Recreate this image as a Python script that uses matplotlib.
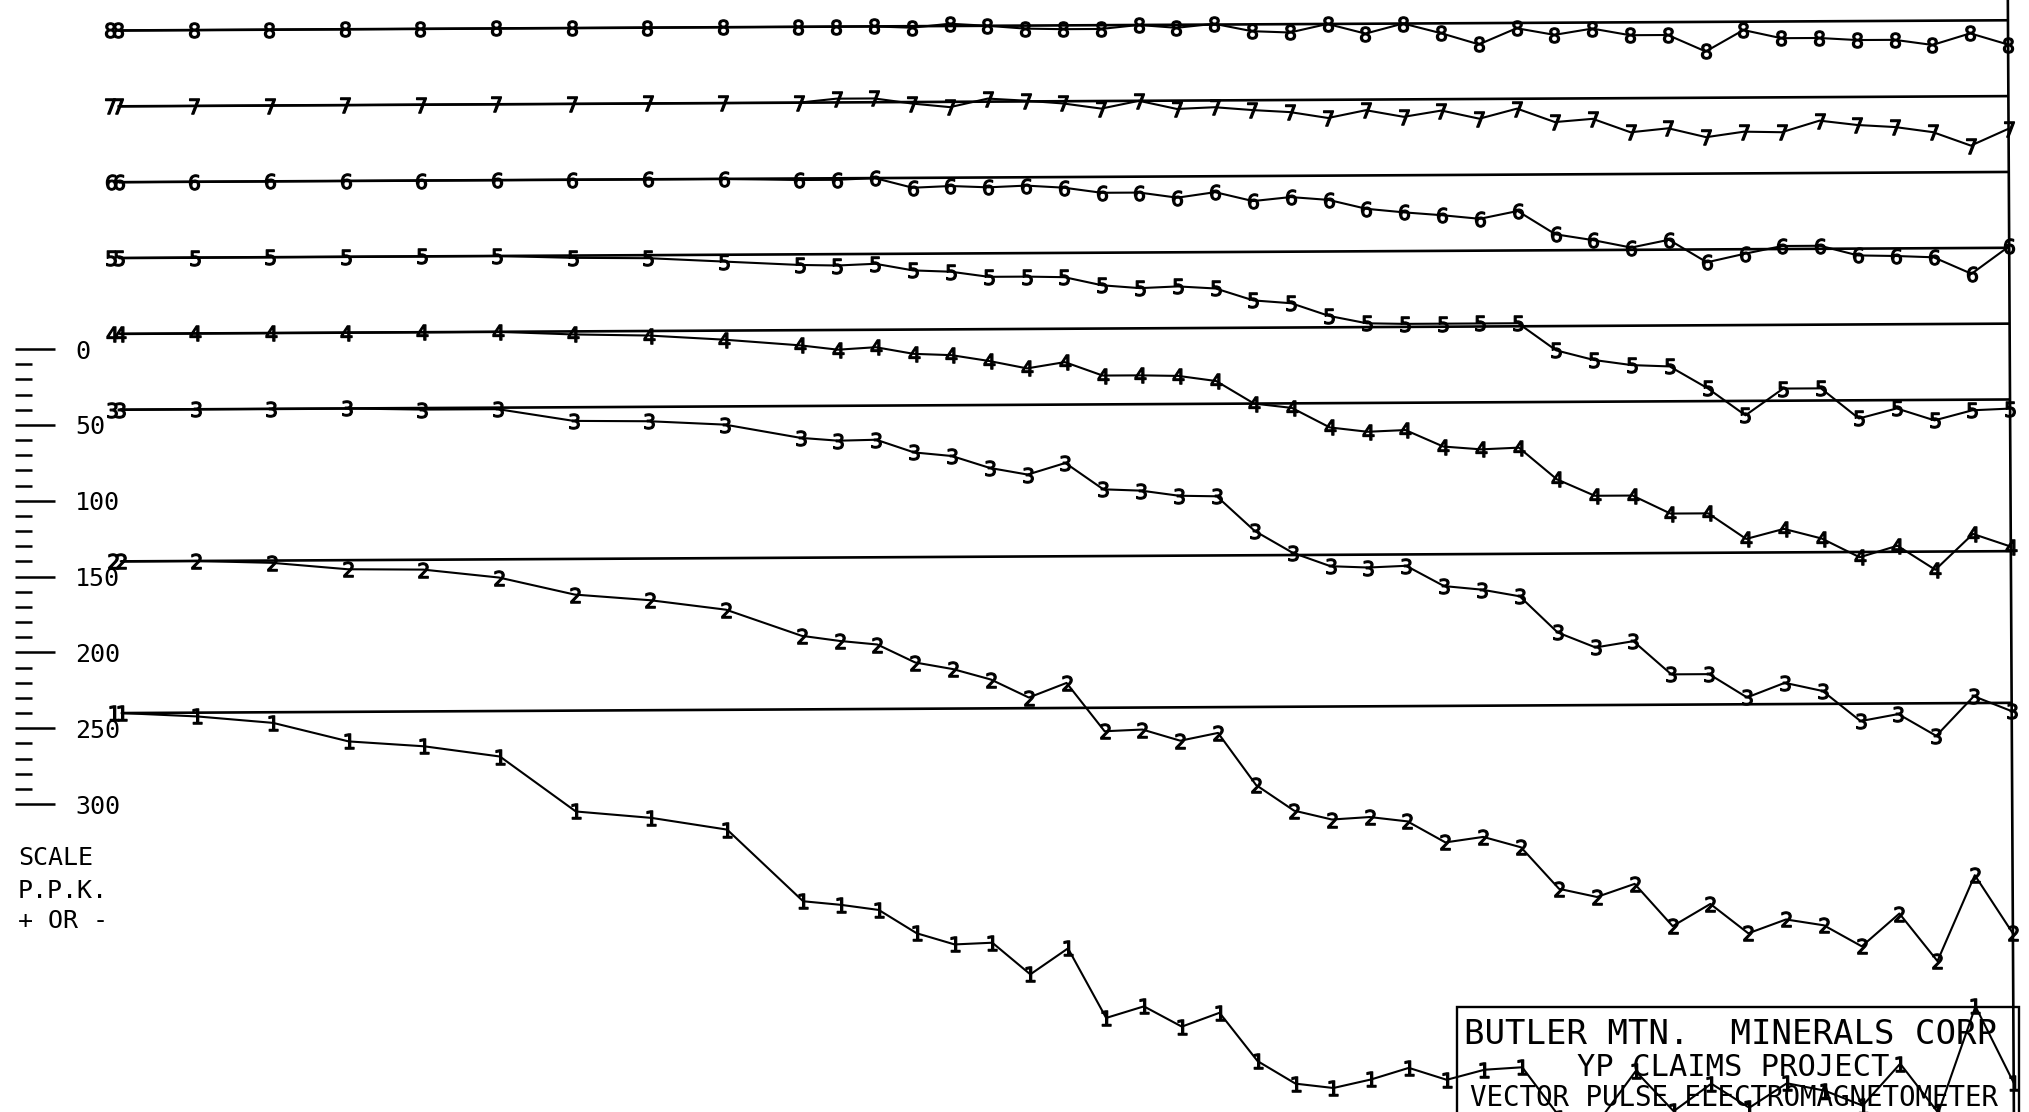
import matplotlib
matplotlib.use("Agg")
import matplotlib.pyplot as plt
from matplotlib.transforms import Affine2D, IdentityTransform, offset_copy
from matplotlib.patches import Rectangle
from matplotlib.ticker import FixedLocator, FuncFormatter

W, H, DPI = 2029, 1112, 100

# survey stations along the profile (wide spacing first, then every station)
stations = [0, 2, 4, 6, 8, 10, 12, 14, 16, 18,
            19, 20, 21, 22, 23, 24, 25, 26, 27, 28, 29, 30, 31, 32, 33, 34,
            35, 36, 37, 38, 39, 40, 41, 42, 43, 44, 45, 46, 47, 48, 49, 50]

# P.P.K. readings per channel
ch8 = [0, 0, 0, 0, 0, 0, 0, 0, 0, 0,
       0, 0, -1, 1.5, 0, -2, -2.5, -2.5, 0, -2, 0.5, -4.5, -5.5, 0, -6.5, 0,
       -6.5, -14, -3.5, -8, -4, -8.5, -8.5, -19.5, -5.5, -11, -11, -12.5, -12.5, -16, -8.5, -16]
ch7 = [0, 0, 0, 0, 0, 0, 0, 0, 0, 0,
       2.5, 2.5, -1, -3.5, 2, 0.5, -1.5, -5, 0, -5.5, -4.5, -6.5, -8, -12, -7, -11.5,
       -7.5, -13, -6.5, -15.5, -13.5, -22.5, -20, -26, -22.5, -23, -15.5, -18.5, -20, -23.5, -32.5, -21.5]
ch6 = [0, 0, 0, 0, 0, 0, 0, 0, 0, -1,
       -1, 0, -6.5, -5.5, -6.5, -5.5, -7, -10.5, -10.5, -14, -10.5, -16.5, -14, -16, -22, -24.5,
       -26.5, -29, -24, -39.5, -43.5, -48.5, -43.5, -58.5, -53, -48, -48, -54.5, -55, -56, -67, -49]
ch5 = [0, 0, 0, 0, 0, 0, -1.5, -2, -4.5, -7,
       -7.5, -6.5, -11, -12, -15.5, -15.5, -16, -21.5, -23.5, -22.5, -24, -32, -34, -42.5, -47.5, -48,
       -48, -48, -48, -66, -72.5, -76, -77, -91.5, -109.5, -92, -92, -112, -105.5, -113.5, -107, -106]
ch4 = [0, 0, 0, 0, 0, 0, -2, -3, -6, -10,
       -13, -11.5, -16, -17, -21, -26, -22, -31, -31, -31.5, -35, -50, -53, -66, -69, -68,
       -79, -81, -80, -101, -112, -112, -124, -124, -141, -134.5, -141, -153.5, -146, -162, -138.5, -147]
ch3 = [0, 0, 0, 0, -1, -1, -9, -9.5, -12, -21,
       -23, -22.5, -31, -33.5, -41.5, -46, -38.5, -56, -57, -60.5, -61, -84, -98.5, -107.5, -108.5, -107.5,
       -121, -123.5, -128, -152, -162, -158, -180, -180, -195.5, -186, -191.5, -211.5, -207, -221.5, -195.5, -205.5]
ch2 = [0, 0, -1.5, -6, -6.5, -12, -23.5, -27.5, -34, -51.5,
       -55, -57.5, -69.5, -74, -81, -93, -83.5, -115.5, -114.5, -122, -117, -151.5, -168.5, -174.5, -173, -176,
       -190, -186.5, -193.5, -221, -226.5, -218, -246, -231.5, -251, -242, -246, -260, -238.5, -270, -213.5, -252]
ch1 = [0, -2.5, -7, -19.5, -23, -30, -66.5, -71, -79, -126.5,
       -129, -132.5, -148, -155.5, -154.5, -175.5, -158.5, -204.5, -197, -210.5, -201.5, -233.5, -248.5, -251.5, -246, -238.5,
       -246.5, -240, -238.5, -272, -275, -241.5, -268, -250, -266, -250, -255, -265, -237.5, -270, -200, -250.5]

channels = [8, 7, 6, 5, 4, 3, 2, 1]
profiles = [ch8, ch7, ch6, ch5, ch4, ch3, ch2, ch1]
offsets = [210, 160, 110, 60, 10, -40, -140, -240]

scale_major = [0, 50, 100, 150, 200, 250, 300]

fig = plt.figure(figsize=(W / DPI, H / DPI), dpi=DPI, facecolor="white")
ax = fig.add_axes([0, 0, 1, 1])
ax.set_xlim(-3.175, 50.503)
ax.set_ylim(-503.0, 230.1)
ax.axis("off")

# the plotter sheet sits slightly rotated on the scan
rot = ax.transData + Affine2D().rotate_deg_around(120, 712, 0.31)
lab = offset_copy(rot, fig=fig, x=-8, y=0, units="dots")

for ch, vals, off in zip(channels, profiles, offsets):
    ax.plot([stations[0], stations[-1]], [off, off], color="black", lw=1.9,
            transform=rot, solid_capstyle="butt")
    ax.plot(stations, [off + v for v in vals], color="black", lw=1.5,
            marker=f"${ch}$", ms=11, mew=0.9, transform=rot, clip_on=False)
    ax.plot(stations[:1], [off], ls="none", marker=f"${ch}$", ms=11, mew=0.9,
            color="black", transform=lab)

y0, y1 = ax.get_ylim()
ax.plot([stations[-1], stations[-1]], [y0 - 60, y1 + 30], color="black", lw=1.9,
        transform=rot, clip_on=False)

# P.P.K. scale on the left
sax = fig.add_axes([15 / W, 0, 0.0001, 1])
sax.set_ylim(ax.get_ylim())
for s in sax.spines.values():
    s.set_visible(False)
sax.xaxis.set_visible(False)
sax.set_facecolor("none")
sax.yaxis.tick_right()
sax.yaxis.set_major_locator(FixedLocator([-v for v in scale_major]))
sax.yaxis.set_minor_locator(FixedLocator([-v for v in range(0, 301, 10) if v % 50]))
sax.yaxis.set_major_formatter(FuncFormatter(lambda v, p: str(int(round(-v)))))
sax.tick_params(axis="y", which="major", direction="out", length=29, width=1.8,
                pad=14, labelsize=18, right=True, labelright=True, left=False, labelleft=False)
sax.tick_params(axis="y", which="minor", direction="out", length=12, width=1.8,
                right=True, left=False)
for t in sax.get_yticklabels():
    t.set_fontfamily("DejaVu Sans Mono")

for txt, yy in [("SCALE", 858), ("P.P.K.", 891), ("+ OR -", 921)]:
    fig.text(18 / W, (H - yy) / H, txt, ha="left", va="center", fontsize=18,
             family="DejaVu Sans Mono")

# title block
box = Rectangle((1457, -20), 2019 - 1457, (H - 1007) + 20, transform=IdentityTransform(),
                fill=False, lw=1.7, edgecolor="black")
fig.add_artist(box)
fig.text(1464 / W, (H - 1034) / H, "BUTLER MTN.  MINERALS CORP", ha="left", va="center",
         fontsize=24.5, family="DejaVu Sans Mono")
fig.text(1733 / W, (H - 1068) / H, "YP CLAIMS PROJECT", ha="center", va="center",
         fontsize=22, family="DejaVu Sans Mono")
fig.text(1470 / W, (H - 1098) / H, "VECTOR PULSE ELECTROMAGNETOMETER", ha="left", va="center",
         fontsize=19.8, family="DejaVu Sans Mono")

fig.savefig("out.png", dpi=DPI, facecolor="white")
